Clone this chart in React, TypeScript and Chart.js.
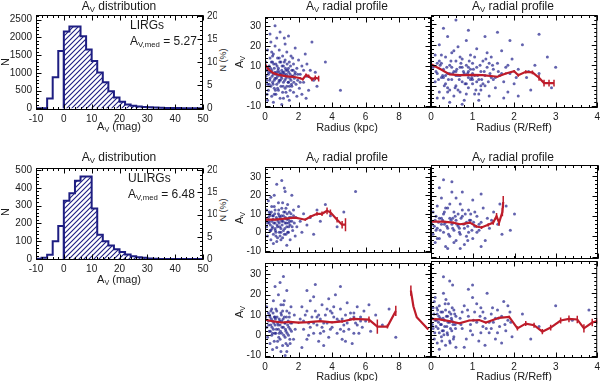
import React, { useEffect, useRef } from "react";
import { Chart, registerables } from "chart.js";
Chart.register(...registerables);

// ---------------- DATA ----------------
const histEdges = [-10, -8, -6, -4, -2, 0, 2, 4, 6, 8, 10, 12, 14, 16, 18, 20, 22, 24, 26, 28, 30, 32, 34, 36, 38, 40, 42, 44, 46, 48];
const lirgCounts = [0, 0, 275, 875, 1614, 2168, 2306, 2306, 2030, 1661, 1337, 1013, 736, 479, 305, 183, 111, 75, 52, 38, 28, 20, 15, 11, 8, 6, 5, 3, 0, 0];
const ulirgCounts = [2, 8, 25, 100, 185, 328, 370, 440, 463, 463, 284, 137, 100, 77, 55, 40, 26, 16, 11, 7, 4, 2, 0, 0, 0, 0, 0, 0, 0, 0];
const histXTicks = [-10, 0, 10, 20, 30, 40, 50];
const lirgNTicks = [0, 500, 1000, 1500, 2000, 2500];
const ulirgNTicks = [0, 100, 200, 300, 400, 500];
const pctTicks = [0, 5, 10, 15, 20];
const avTicks = [-10, 0, 10, 20, 30];
const kpcTicks = [0, 2, 4, 6, 8];
const reffTicks = [0, 1, 2, 3, 4];

// scatter clouds (radius, A_V)
const dotsA: [number, number][] = [[0.05,12],[0.1,8],[0.1,3],[0.15,18],[0.2,6],[0.2,-2],[0.25,10],[0.3,14],[0.3,4],[0.35,0],[0.35,22],[0.4,8],[0.4,-5],[0.45,12],[0.45,2],[0.5,6],[0.5,16],[0.55,-1],[0.55,9],[0.6,4],[0.6,20],[0.65,11],[0.65,-4],[0.7,7],[0.7,1],[0.75,14],[0.75,5],[0.8,-2],[0.8,9],[0.85,3],[0.85,18],[0.9,6],[0.9,-6],[0.95,12],[0.95,0],[1.0,8],[1.0,4],[1.05,15],[1.05,-3],[1.1,2],[1.1,10],[1.15,6],[1.15,24],[1.2,-1],[1.2,13],[1.25,4],[1.25,8],[1.3,0],[1.3,17],[1.35,5],[1.35,-5],[1.4,9],[1.4,2],[1.45,12],[1.5,6],[1.5,-2],[1.55,3],[1.55,15],[1.6,8],[1.6,0],[1.65,5],[1.7,11],[1.7,-3],[1.75,4],[1.8,7],[1.8,19],[1.85,1],[1.9,9],[1.95,3],[2.0,13],[2.05,-1],[2.1,6],[2.2,10],[2.3,2],[2.4,16],[2.5,5],[2.6,-2],[2.7,8],[2.8,22],[2.9,3],[3.0,7],[3.1,0],[0.3,26],[0.6,30],[0.9,27],[1.4,25],[0.15,-7],[0.5,-8],[1.0,-9],[0.4,17],[0.7,24],[1.2,21],[0.25,1],[0.55,3],[0.85,7],[1.1,-6],[1.45,-7],[0.05,5],[0.12,-4],[1.65,14],[1.9,-5],[2.2,-4],[3.6,12],[4.5,-2],[2.45,-6],
  [0.22,7],[0.28,3],[0.33,9],[0.38,12],[0.42,5],[0.48,1],[0.52,11],[0.58,7],[0.62,-2],[0.68,4],[0.72,10],[0.78,8],[0.82,2],[0.88,12],[0.92,3],[0.98,6],[1.02,10],[1.08,0],[1.12,7],[1.18,3],[1.22,9],[1.28,6],[1.32,11],[1.38,2],[1.42,7],[1.48,4],[1.52,10],[1.58,1],[1.62,5],[1.68,8],[1.72,2],[1.78,6],[0.18,9],[0.35,7],[0.65,6],[0.95,5],[1.15,12],[1.45,0],[0.75,-1],[1.05,7],[0.45,15],[0.85,14],[1.25,-3],[0.55,-4],[1.35,8],[0.15,1],[1.95,6],[2.1,2],[2.3,8],[2.5,11]];
const dotsB: [number, number][] = [[0.05,9],[0.1,15],[0.1,2],[0.15,6],[0.2,20],[0.2,-3],[0.25,11],[0.25,4],[0.3,8],[0.3,-6],[0.35,14],[0.35,1],[0.4,6],[0.4,24],[0.45,10],[0.45,-2],[0.5,3],[0.5,16],[0.55,7],[0.55,-5],[0.6,12],[0.6,0],[0.65,5],[0.65,19],[0.7,9],[0.7,-3],[0.75,2],[0.75,13],[0.8,6],[0.8,-7],[0.85,10],[0.85,22],[0.9,4],[0.9,-1],[0.95,8],[0.95,15],[1.0,1],[1.0,11],[1.05,5],[1.05,-4],[1.1,9],[1.1,18],[1.15,3],[1.2,7],[1.2,-2],[1.25,12],[1.3,0],[1.3,5],[1.35,9],[1.4,-5],[1.45,14],[1.5,3],[1.5,8],[1.55,-1],[1.6,11],[1.65,5],[1.7,17],[1.75,2],[1.8,9],[1.85,-3],[1.9,6],[1.95,13],[2.0,1],[2.1,8],[2.2,20],[2.3,4],[2.4,-2],[2.5,10],[2.6,6],[2.8,14],[2.9,-1],[3.0,9],[0.3,28],[0.6,32],[0.9,27],[1.3,24],[1.6,26],[0.45,-8],[0.75,-9],[1.15,-7],[0.2,12],[0.5,9],[0.7,5],[0.95,3],[1.25,1],[0.15,-6],[0.35,5],[0.6,7],[0.85,1],[1.0,6],[1.35,16],[1.75,-6],[2.1,-5],[2.6,25],[1.9,22],[0.4,-1],[0.65,-2],[0.9,9],[1.1,2],[1.45,4],
  [0.12,7],[0.18,3],[0.22,10],[0.28,5],[0.32,0],[0.38,9],[0.42,3],[0.48,12],[0.52,6],[0.58,-1],[0.62,8],[0.68,3],[0.72,11],[0.78,7],[0.82,1],[0.88,6],[0.92,12],[0.98,4],[1.02,8],[1.08,-2],[1.12,5],[1.18,10],[1.22,3],[1.28,7],[1.32,13],[1.38,2],[1.42,6],[1.48,10],[1.55,4],[1.62,7],[0.25,15],[0.55,17],[0.85,-4],[1.05,14],[0.4,-3],[0.7,14],[1.0,3],[0.3,4],[0.6,5],[0.9,7],[1.2,0],[0.15,11],[0.45,6],[0.75,9],[1.15,-4],[1.4,11],[1.7,6],[1.85,10],[2.05,4],[2.35,7]];
const dotsC: [number, number][] = [[0.05,7],[0.1,3],[0.1,12],[0.15,-2],[0.2,8],[0.2,17],[0.25,5],[0.3,1],[0.3,10],[0.35,-4],[0.4,6],[0.4,14],[0.45,3],[0.5,9],[0.5,-1],[0.55,20],[0.6,5],[0.6,12],[0.65,0],[0.7,7],[0.7,-5],[0.75,3],[0.8,10],[0.8,16],[0.85,5],[0.9,-2],[0.9,8],[0.95,2],[1.0,13],[1.0,6],[1.05,-3],[1.1,9],[1.1,1],[1.15,24],[1.2,5],[1.2,11],[1.25,-1],[1.3,7],[1.3,3],[1.35,15],[1.4,0],[1.45,8],[1.5,4],[1.5,-4],[1.55,10],[1.6,6],[1.65,1],[1.7,12],[1.75,5],[1.8,-2],[1.85,8],[1.9,3],[2.0,14],[2.1,6],[2.2,0],[2.3,10],[2.5,4],[2.7,8],[2.9,-1],[3.1,12],[3.3,6],[3.6,15],[3.9,9],[4.3,3],[4.7,11],[1.0,28],[0.7,26],[1.2,22],[0.35,19],[1.6,20],[0.5,-6],[1.3,-7],[5.4,22],[0.25,11],[0.6,2],[0.95,-4],[1.4,5],[0.15,5],[0.85,0],[1.7,9],
  [0.22,6],[0.28,9],[0.32,4],[0.38,11],[0.42,2],[0.48,7],[0.52,5],[0.58,10],[0.62,1],[0.68,8],[0.72,4],[0.78,6],[0.82,12],[0.88,3],[0.92,7],[0.98,9],[1.02,4],[1.08,6],[1.12,11],[1.18,2],[1.22,8],[1.28,5],[1.32,10],[1.38,7],[1.42,3],[1.48,6],[1.55,8],[1.62,3],[0.35,1],[0.65,-2],[0.95,0],[1.25,13],[0.55,14],[0.75,-3],[1.05,16],[0.45,9],[1.15,-1],[1.45,11],[0.85,9],[1.35,0]];
const dotsD: [number, number][] = [[0.02,6],[0.05,12],[0.05,1],[0.1,8],[0.1,-3],[0.15,15],[0.15,4],[0.2,9],[0.2,-1],[0.25,6],[0.25,19],[0.3,2],[0.3,11],[0.35,7],[0.35,-5],[0.4,4],[0.4,14],[0.45,9],[0.45,0],[0.5,6],[0.5,22],[0.55,3],[0.55,12],[0.6,-2],[0.6,8],[0.65,5],[0.7,16],[0.7,1],[0.75,10],[0.8,4],[0.8,-4],[0.85,7],[0.9,13],[0.9,2],[0.95,8],[1.0,-1],[1.0,18],[1.05,5],[1.1,10],[1.15,3],[1.2,7],[1.25,14],[1.3,-2],[1.35,9],[1.4,4],[1.5,12],[1.6,6],[1.7,1],[1.8,15],[0.3,28],[0.5,27],[0.2,24],[0.75,22],[1.2,21],[0.4,-6],[0.7,-6],[0.12,3],[0.32,6],[0.52,9],[0.68,4],[0.88,-2],[1.1,2],[1.45,8],[1.65,16],[2.0,11],[1.9,3],[1.2,-5],[0.95,11],[0.6,19],
  [0.08,5],[0.12,10],[0.18,7],[0.22,3],[0.28,8],[0.32,12],[0.38,5],[0.42,1],[0.48,8],[0.52,4],[0.58,10],[0.62,6],[0.68,2],[0.72,9],[0.78,6],[0.82,11],[0.88,5],[0.92,8],[0.98,3],[1.02,7],[0.15,-1],[0.35,14],[0.55,-3],[0.75,13],[0.45,16],[0.25,9],[0.65,11],[0.85,0],[1.05,12],[1.15,6]];
const dotsE: [number, number][] = [[0.05,9],[0.1,4],[0.1,14],[0.15,-1],[0.2,7],[0.2,11],[0.25,2],[0.3,9],[0.3,-4],[0.35,5],[0.4,13],[0.4,0],[0.45,7],[0.5,3],[0.5,17],[0.55,-3],[0.6,9],[0.6,5],[0.65,1],[0.7,12],[0.7,-6],[0.75,6],[0.8,3],[0.8,20],[0.85,8],[0.9,-2],[0.9,5],[0.95,11],[1.0,1],[1.0,7],[1.05,-5],[1.1,4],[1.1,15],[1.15,9],[1.2,-1],[1.2,6],[1.25,2],[1.3,12],[1.3,-8],[1.35,5],[1.4,0],[1.45,9],[1.5,3],[1.5,-4],[1.55,14],[1.6,6],[1.7,-2],[1.75,10],[1.8,3],[0.9,26],[1.1,29],[0.6,24],[1.3,22],[0.95,-8],[0.45,-7],[1.2,-10],[2.1,8],[2.2,14],[2.3,3],[2.4,10],[2.5,-2],[2.6,6],[2.7,17],[2.8,9],[2.9,1],[3.0,12],[3.1,5],[3.2,-3],[3.3,8],[3.4,15],[3.5,2],[3.6,10],[3.7,6],[3.8,-1],[3.9,12],[4.0,4],[4.1,9],[4.2,20],[4.3,1],[4.4,7],[4.5,13],[4.6,-2],[4.7,5],[4.8,10],[4.9,16],[5.0,3],[5.1,8],[5.2,-4],[5.3,11],[5.4,6],[5.5,14],[5.6,1],[5.7,9],[5.8,4],[5.9,12],[6.0,7],[2.5,22],[3.0,25],[4.5,24],[3.5,-5],[2.9,19],[4.8,-3],[3.8,18],[2.2,-6],[6.3,2],[6.6,10],[7.0,5],[7.4,13],[7.8,-1],[6.2,15],[3.4,4],[4.0,11],[2.6,0],[5.3,1],[4.6,8],[3.2,10],
  [0.22,5],[0.28,10],[0.32,2],[0.38,8],[0.42,4],[0.48,11],[0.52,6],[0.58,1],[0.62,8],[0.68,3],[0.72,9],[0.78,5],[0.82,-1],[0.88,7],[0.92,2],[0.98,10],[1.02,4],[1.08,8],[1.12,0],[1.18,6],[1.22,3],[1.28,9],[1.32,1],[1.38,7],[1.42,4],[1.48,-2],[1.52,6],[1.58,2],[0.65,13],[0.95,15],[1.25,-4],[0.75,-3],[1.05,12],[0.45,1],[1.15,17],[0.35,12],[1.45,11],[0.85,1],[1.35,-5],[0.55,9],
  [2.3,7],[2.7,4],[3.1,9],[3.5,6],[3.9,3],[4.3,8],[4.7,2],[5.1,11],[5.5,5],[2.5,12],[3.3,1],[4.1,14],[4.9,6],[5.7,7],[2.9,6],[3.7,13],[4.5,3],[5.3,9]];
const dotsF: [number, number][] = [[0.02,8],[0.05,3],[0.05,13],[0.08,-2],[0.1,7],[0.1,18],[0.12,4],[0.15,10],[0.15,-4],[0.18,6],[0.2,1],[0.2,14],[0.22,8],[0.25,-1],[0.25,5],[0.28,11],[0.3,2],[0.3,20],[0.32,7],[0.35,-5],[0.35,12],[0.38,4],[0.4,9],[0.4,0],[0.42,15],[0.45,6],[0.45,-3],[0.48,10],[0.5,2],[0.5,7],[0.52,24],[0.55,-1],[0.55,12],[0.58,5],[0.6,9],[0.6,-6],[0.3,28],[0.45,26],[0.2,-7],[0.7,8],[0.75,3],[0.8,14],[0.85,-2],[0.9,9],[0.95,5],[1.0,18],[1.0,0],[1.05,11],[1.1,6],[1.15,-3],[1.2,13],[1.25,4],[1.3,8],[1.35,20],[1.4,1],[1.45,10],[1.5,6],[1.55,-2],[1.6,12],[1.65,4],[1.7,9],[1.75,16],[1.8,2],[1.85,7],[1.9,11],[1.95,-1],[1.0,24],[1.3,-5],[0.8,-6],[0.9,22],[1.2,1],[1.55,8],[1.7,-4],[2.2,10],[2.6,4],[3.0,14],[3.4,7],[3.8,12],[2.4,-2],[1.1,15],[1.45,3],[0.75,11],
  [0.03,5],[0.07,10],[0.09,1],[0.13,7],[0.14,13],[0.17,3],[0.19,9],[0.23,5],[0.24,11],[0.27,2],[0.29,8],[0.33,4],[0.34,15],[0.37,9],[0.39,1],[0.41,6],[0.44,11],[0.47,3],[0.49,8],[0.53,5],[0.54,-2],[0.57,10],[0.59,3],[0.08,16],[0.26,-3],[0.36,17],[0.46,-4],[0.16,12],[0.31,0],[0.51,13],
  [0.72,5],[0.88,12],[1.02,7],[1.18,9],[1.33,3],[1.48,13],[1.62,8],[1.78,5],[1.92,6],[0.95,2],[1.25,11],[1.4,6],[1.6,1],[1.85,14]];

// median profiles: radius, A_V, error
const profAx = [0, 0.2, 0.5, 0.9, 1.3, 1.7, 2.1, 2.25, 2.45, 2.6, 2.8, 3.0, 3.2];
const profAy = [11, 8.4, 6.5, 5.5, 4.9, 4.7, 4.0, 3.5, 5.5, 5.0, 3.5, 4.2, 3.8];
const profAe = [0.6, 0.5, 0.4, 0.3, 0.3, 0.4, 0.5, 0.6, 0.8, 0.9, 1.0, 1.2, 1.4];
const profBx = [0, 0.2, 0.45, 0.69, 1.0, 1.24, 1.6, 1.8, 2.0, 2.1, 2.28, 2.44, 2.6, 2.72, 2.84, 2.96];
const profBy = [10.5, 8.4, 5.5, 5.2, 5.3, 5.2, 4.4, 6.0, 7.1, 5.1, 6.8, 6.5, 3.9, 1.3, 1.3, 1.3];
const profBe = [0.5, 0.4, 0.3, 0.3, 0.3, 0.3, 0.4, 0.5, 0.6, 0.7, 0.8, 0.9, 1.5, 1.6, 1.6, 1.6];
const profCx = [0.06, 0.6, 1.2, 1.8, 2.4, 2.7, 3.1, 3.4, 3.7, 3.9, 4.3, 4.6, 4.8];
const profCy = [6.8, 6.8, 7.4, 7.9, 6.8, 8.4, 10, 10, 11.6, 10.8, 6.8, 4.1, 4.1];
const profCe = [0.5, 0.4, 0.4, 0.5, 0.6, 0.8, 1.0, 1.2, 1.8, 1.5, 1.5, 2.0, 3.5];
const profDx = [0.0, 0.29, 0.53, 0.69, 0.81, 0.93, 1.09, 1.21, 1.37, 1.49, 1.57, 1.63, 1.71, 1.73];
const profDy = [7.3, 7.3, 6.8, 6.0, 6.3, 6.8, 4.9, 4.4, 5.7, 6.8, 10, 6.8, 12, 17];
const profDe = [0.5, 0.4, 0.4, 0.4, 0.5, 0.5, 0.6, 0.7, 0.8, 1.0, 1.5, 1.5, 2.0, 3.0];
const profEx = [0, 0.5, 1.0, 1.5, 2.0, 2.6, 3.3, 4.0, 4.6, 5.3, 6.2, 6.7, 7.3, 7.8, 8.3, 8.7, 8.85, 9.05, 9.74];
const profEy: (number | null)[] = [7.7, 6.8, 6.3, 6.6, 6.2, 6.5, 7.0, 6.4, 6.8, 8.1, 7.7, 4.3, 4.3, 12, null, 22, 14.3, 8.9, 2.8];
const profEe = [0.5, 0.4, 0.4, 0.4, 0.5, 0.5, 0.5, 0.5, 0.6, 0.8, 1.5, 3.5, 1.0, 2.5, 0, 2.5, 0, 0, 0];
const profFx = [0, 0.2, 0.44, 0.68, 0.92, 1.16, 1.32, 1.64, 1.88, 2.08, 2.28, 2.48, 2.68, 2.88, 3.12, 3.32, 3.52, 3.68, 3.88, 4.0];
const profFy = [7.7, 7.4, 6.6, 5.5, 6.9, 7.1, 5.9, 8.2, 8.6, 3.1, 5.4, 4.6, 1.5, 3.5, 6.9, 7.7, 7.4, 3.1, 5.9, 6.6];
const profFe = [0.4, 0.3, 0.3, 0.3, 0.3, 0.4, 0.4, 0.5, 0.6, 1.0, 1.2, 1.2, 1.3, 1.4, 1.5, 1.6, 1.8, 2.0, 1.8, 1.5];

// ---------------- STYLE ----------------
const FONT = "'Liberation Sans', Arial, Helvetica, sans-serif";
const NAVY = "rgb(30,30,130)";
const RED = "rgb(190,28,42)";
const DOT = "rgba(25,25,135,0.68)";
const TXT = "#1a1a1a";

type Box = { l: number; t: number; r: number; b: number; pl: number; pr: number; pt: number; pb: number };

const framePlugin = {
  id: "idlFrame",
  afterDatasetsDraw(chart: any, _a: any, o: any) {
    if (!o || !o.xMaj) return;
    const { ctx, chartArea: a, scales } = chart;
    const L = a.left + 0.5, R = a.right - 0.5, T = a.top + 0.5, B = a.bottom - 0.5;
    const marks = (s: any, step: number) => {
      const out: number[] = [];
      const start = Math.ceil(s.min / step - 1e-6) * step;
      for (let v = start; v <= s.max + 1e-6; v += step) out.push(v);
      return out;
    };
    ctx.save();
    ctx.strokeStyle = "#000";
    ctx.lineWidth = 1;
    ctx.strokeRect(L, T, R - L, B - T);
    ctx.beginPath();
    const dx = (step: number, len: number) => {
      for (const v of marks(scales.x, step)) {
        const p = Math.round(scales.x.getPixelForValue(v)) + 0.5;
        ctx.moveTo(p, B); ctx.lineTo(p, B - len);
        ctx.moveTo(p, T); ctx.lineTo(p, T + len);
      }
    };
    const dy = (s: any, step: number, len: number, left: boolean, right: boolean) => {
      for (const v of marks(s, step)) {
        const p = Math.round(s.getPixelForValue(v)) + 0.5;
        if (left) { ctx.moveTo(L, p); ctx.lineTo(L + len, p); }
        if (right) { ctx.moveTo(R, p); ctx.lineTo(R - len, p); }
      }
    };
    dx(o.xMaj, 5); dx(o.xMin, 2.5);
    if (scales.y2) {
      dy(scales.y, o.yMaj, 5, true, false); dy(scales.y, o.yMin, 2.5, true, false);
      dy(scales.y2, o.y2Maj, 5, false, true); dy(scales.y2, o.y2Min, 2.5, false, true);
    } else {
      dy(scales.y, o.yMaj, 5, true, true); dy(scales.y, o.yMin, 2.5, true, true);
    }
    ctx.stroke();
    ctx.restore();
  },
};
Chart.register(framePlugin);

const tickFont = { family: FONT, size: 10 };

function axis(pos: string, min: number, max: number, ticks: number[], show: boolean, fit: (s: any) => void) {
  return {
    type: "linear",
    position: pos,
    min,
    max,
    grid: { display: false, drawTicks: false },
    border: { display: false },
    ticks: { display: show, font: tickFont, color: TXT, padding: pos === "bottom" ? 3 : 4, autoSkip: false, maxRotation: 0, callback: (v: number) => String(v) },
    afterBuildTicks: (s: any) => { s.ticks = ticks.map((v) => ({ value: v })); },
    afterFit: fit,
  };
}

function baseOptions(box: Box, scales: any, frame: any) {
  return {
    responsive: false,
    maintainAspectRatio: false,
    animation: false,
    devicePixelRatio: 1,
    events: [],
    layout: { padding: { top: box.pt, left: 0, bottom: 0, right: scales.y2 ? 0 : box.pr } },
    plugins: { legend: { display: false }, tooltip: { enabled: false }, title: { display: false }, idlFrame: frame },
    scales,
  };
}

function histConfig(ctx: CanvasRenderingContext2D, box: Box, counts: number[], yr: [number, number], y2r: [number, number], yTicks: number[], yMin: number) {
  const pc = document.createElement("canvas");
  pc.width = 5; pc.height = 5;
  const g = pc.getContext("2d")!;
  g.strokeStyle = NAVY; g.lineWidth = 1.1;
  g.beginPath();
  g.moveTo(0, 5); g.lineTo(5, 0);
  g.moveTo(-1, 1); g.lineTo(1, -1);
  g.moveTo(4, 6); g.lineTo(6, 4);
  g.stroke();
  const pattern = ctx.createPattern(pc, "repeat");
  const neg: any[] = [];
  const pos: any[] = [{ x: 0, y: 0 }];
  histEdges.forEach((e, i) => {
    if (e < 0) neg.push({ x: e, y: counts[i] });
    else pos.push({ x: e, y: counts[i] });
  });
  neg.push({ x: 0, y: 0 });
  pos.push({ x: histEdges[histEdges.length - 1] + 2, y: 0 });
  const scales = {
    x: axis("bottom", -10, 50, histXTicks, true, (s: any) => { s.height = box.pb; }),
    y: axis("left", yr[0], yr[1], yTicks, true, (s: any) => { s.width = box.pl; }),
    y2: axis("right", y2r[0], y2r[1], pctTicks, true, (s: any) => { s.width = box.pr; }),
  };
  return {
    type: "scatter",
    data: {
      datasets: [
        { data: pos, showLine: true, stepped: true, borderColor: NAVY, borderWidth: 2, pointRadius: 0, fill: "origin", backgroundColor: pattern, yAxisID: "y" },
        { data: neg, showLine: true, stepped: true, borderColor: NAVY, borderWidth: 2, pointRadius: 0, fill: false, yAxisID: "y" },
      ],
    },
    options: baseOptions(box, scales, { xMaj: 10, xMin: 2, yMaj: yTicks[1], yMin, y2Maj: 5, y2Min: 1 }),
  };
}

function scatterConfig(box: Box, dots: [number, number][], px: number[], py: (number | null)[], pe: number[], xMax: number, xTicks: number[], xMinor: number, yr: [number, number], showX: boolean, showY: boolean) {
  const err: any[] = [];
  px.forEach((x, i) => {
    const y = py[i];
    if (y !== null && pe[i] > 0) {
      err.push({ x, y: y - pe[i] }, { x, y: y + pe[i] }, { x, y: NaN });
    }
  });
  const scales = {
    x: axis("bottom", 0, xMax, xTicks, showX, (s: any) => { s.height = box.pb; }),
    y: axis("left", yr[0], yr[1], avTicks, showY, (s: any) => { s.width = box.pl; }),
  };
  return {
    type: "scatter",
    data: {
      datasets: [
        { data: px.map((x, i) => ({ x, y: py[i] })), showLine: true, spanGaps: false, borderColor: RED, borderWidth: 2.2, pointRadius: 0, order: 0 },
        { data: err, showLine: true, spanGaps: false, borderColor: RED, borderWidth: 1.5, pointRadius: 0, order: 1 },
        { data: dots.map(([x, y]) => ({ x, y })), pointRadius: 1.5, pointBorderWidth: 0, backgroundColor: DOT, order: 2 },
      ],
    },
    options: baseOptions(box, scales, { xMaj: xTicks[1] - xTicks[0], xMin: xMinor, yMaj: 10, yMin: 2 }),
  };
}

function ChartBox({ box, build }: { box: Box; build: (ctx: CanvasRenderingContext2D) => any }) {
  const ref = useRef<HTMLCanvasElement>(null);
  const w = box.r - box.l + box.pl + box.pr;
  const h = box.b - box.t + box.pt + box.pb;
  useEffect(() => {
    const c = ref.current!;
    const chart = new Chart(c, build(c.getContext("2d")!));
    return () => chart.destroy();
  }, []);
  return (
    <div style={{ position: "absolute", left: box.l - box.pl, top: box.t - box.pt, width: w, height: h }}>
      <canvas ref={ref} width={w} height={h} style={{ width: w, height: h, display: "block" }} />
    </div>
  );
}

function Txt({ x, y, size = 11, rot = 0, align = "center", children }: any) {
  const tx = align === "center" ? "-50%" : align === "left" ? "0" : "-100%";
  return (
    <div style={{ position: "absolute", left: x, top: y, transform: `translate(${tx},-50%) rotate(${rot}deg)`, fontFamily: FONT, fontSize: size, color: TXT, whiteSpace: "nowrap", lineHeight: 1 }}>
      {children}
    </div>
  );
}
const Sub = ({ c }: { c: string }) => <span style={{ fontSize: "0.65em", position: "relative", top: "0.3em" }}>{c}</span>;
const AV = ({ s = "V" }: { s?: string }) => <>A<Sub c={s} /></>;

const H1: Box = { l: 36, t: 13, r: 203, b: 110, pl: 36, pr: 14, pt: 8, pb: 14 };
const H2: Box = { l: 36, t: 166, r: 203, b: 260, pl: 36, pr: 14, pt: 8, pb: 14 };
const PA: Box = { l: 265, t: 15, r: 431, b: 108, pl: 22, pr: 4, pt: 8, pb: 14 };
const PB: Box = { l: 431, t: 15, r: 598, b: 108, pl: 8, pr: 5, pt: 8, pb: 14 };
const PC: Box = { l: 265, t: 165, r: 431, b: 261, pl: 22, pr: 4, pt: 8, pb: 2 };
const PD: Box = { l: 431, t: 165, r: 598, b: 261, pl: 8, pr: 5, pt: 8, pb: 2 };
const PE: Box = { l: 265, t: 261, r: 431, b: 358, pl: 22, pr: 4, pt: 8, pb: 14 };
const PF: Box = { l: 431, t: 261, r: 598, b: 358, pl: 8, pr: 5, pt: 8, pb: 14 };

export default function App() {
  const yA: [number, number] = [-10.8, 34.4];
  const yC: [number, number] = [-11.2, 35.3];
  const yE: [number, number] = [-11.2, 35.6];
  return (
    <div style={{ position: "fixed", left: 0, top: 0, width: 600, height: 381, background: "#fff", overflow: "hidden" }}>
      <ChartBox box={H1} build={(c) => histConfig(c, H1, lirgCounts, [-47, 2630], [-0.36, 20.3], lirgNTicks, 100)} />
      <ChartBox box={H2} build={(c) => histConfig(c, H2, ulirgCounts, [-5, 511], [-0.2, 20.5], ulirgNTicks, 20)} />
      <ChartBox box={PA} build={() => scatterConfig(PA, dotsA, profAx, profAy, profAe, 9.9, kpcTicks, 0.5, yA, true, true)} />
      <ChartBox box={PB} build={() => scatterConfig(PB, dotsB, profBx, profBy, profBe, 4, reffTicks, 0.2, yA, true, false)} />
      <ChartBox box={PC} build={() => scatterConfig(PC, dotsC, profCx, profCy, profCe, 9.9, kpcTicks, 0.5, yC, false, true)} />
      <ChartBox box={PD} build={() => scatterConfig(PD, dotsD, profDx, profDy, profDe, 4, reffTicks, 0.2, yC, false, false)} />
      <ChartBox box={PE} build={() => scatterConfig(PE, dotsE, profEx, profEy, profEe, 9.9, kpcTicks, 0.5, yE, true, true)} />
      <ChartBox box={PF} build={() => scatterConfig(PF, dotsF, profFx, profFy, profFe, 4, reffTicks, 0.2, yE, true, false)} />

      <Txt x={119} y={6} size={12}><AV /> distribution</Txt>
      <Txt x={119} y={157} size={12}><AV /> distribution</Txt>
      <Txt x={347} y={6} size={12}><AV /> radial profile</Txt>
      <Txt x={513} y={6} size={12}><AV /> radial profile</Txt>
      <Txt x={347} y={157} size={12}><AV /> radial profile</Txt>
      <Txt x={513} y={157} size={12}><AV /> radial profile</Txt>

      <Txt x={119} y={127} size={11}><AV /> (mag)</Txt>
      <Txt x={119} y={280} size={11}><AV /> (mag)</Txt>
      <Txt x={347} y={127} size={11}>Radius (kpc)</Txt>
      <Txt x={514} y={127} size={11}>Radius (R/Reff)</Txt>
      <Txt x={347} y={376} size={11}>Radius (kpc)</Txt>
      <Txt x={514} y={376} size={11}>Radius (R/Reff)</Txt>

      <Txt x={5} y={62} size={11} rot={-90}>N</Txt>
      <Txt x={5} y={212} size={11} rot={-90}>N</Txt>
      <Txt x={223} y={60} size={9} rot={-90}>N (%)</Txt>
      <Txt x={223} y={210} size={9} rot={-90}>N (%)</Txt>
      <Txt x={240} y={62} size={11} rot={-90}><AV /></Txt>
      <Txt x={240} y={218} size={11} rot={-90}><AV /></Txt>
      <Txt x={240} y={312} size={11} rot={-90}><AV /></Txt>

      <Txt x={130} y={25} size={12} align="left">LIRGs</Txt>
      <Txt x={130} y={41} size={12} align="left"><AV s="V,med" /> = 5.27</Txt>
      <Txt x={128} y={178} size={12} align="left">ULIRGs</Txt>
      <Txt x={128} y={194} size={12} align="left"><AV s="V,med" /> = 6.48</Txt>
    </div>
  );
}
